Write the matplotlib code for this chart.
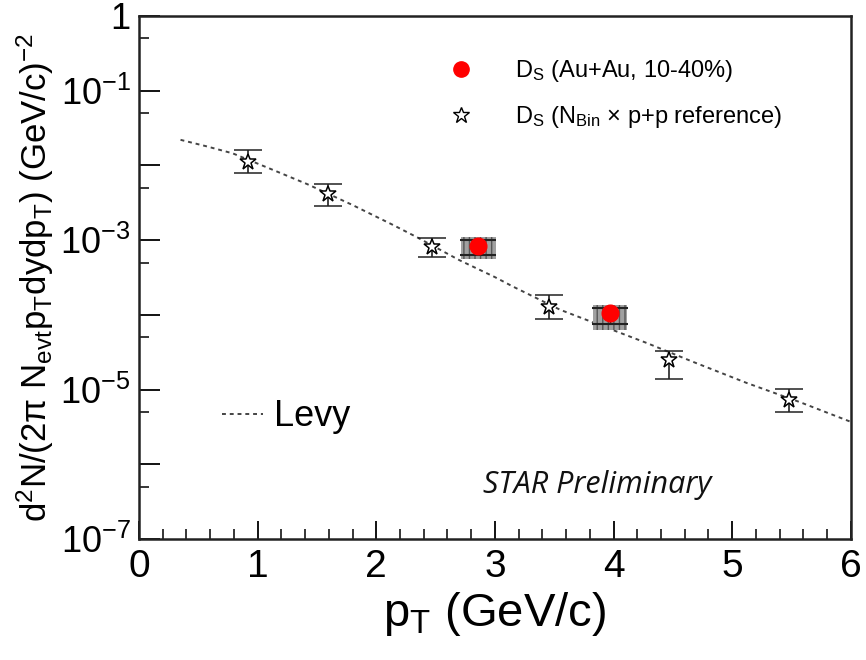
import matplotlib
matplotlib.use('Agg')
import matplotlib.pyplot as plt
from matplotlib.lines import Line2D
from matplotlib.ticker import FixedLocator, FixedFormatter
import numpy as np

plt.rcParams['font.family'] = ['Liberation Sans', 'DejaVu Sans']
plt.rcParams['mathtext.fontset'] = 'custom'
plt.rcParams['mathtext.rm'] = 'Liberation Sans'
plt.rcParams['mathtext.it'] = 'Liberation Sans'
plt.rcParams['mathtext.bf'] = 'Liberation Sans:bold'

# D_s in Au+Au 10-40%
aa_pt = [2.86, 3.97]
aa_val = [8.3e-4, 1.05e-4]
aa_sys_lo = [5.6e-4, 6.3e-5]
aa_sys_hi = [1.1e-3, 1.35e-4]
aa_stat_lo = [6.3e-4, 7.6e-5]
aa_stat_hi = [1.0e-3, 1.25e-4]

# Ncoll x p+p reference
pp_pt = [0.92, 1.59, 2.47, 3.46, 4.47, 5.48]
pp_val = [1.11e-2, 4.15e-3, 8.1e-4, 1.27e-4, 2.5e-5, 7.2e-6]
pp_lo = [7.9e-3, 2.9e-3, 5.9e-4, 8.8e-5, 1.4e-5, 5.0e-6]
pp_hi = [1.61e-2, 5.6e-3, 1.07e-3, 1.85e-4, 3.3e-5, 1.02e-5]

# Levy curve
levy_pt = [0.35, 0.57, 0.79, 1.13, 1.42, 1.80, 2.14, 2.34, 2.70, 3.00,
           3.15, 3.55, 3.99, 4.28, 4.67, 5.12, 5.57, 6.00]
levy_val = [2.2e-2, 1.8e-2, 1.45e-2, 8.7e-3, 5.6e-3, 2.95e-3, 1.6e-3, 1.1e-3,
            5.4e-4, 3.2e-4, 2.4e-4, 1.17e-4, 6.3e-5, 4.2e-5, 2.35e-5, 1.23e-5,
            6.8e-6, 3.7e-6]

fig = plt.figure(figsize=(8.66, 6.6), dpi=100)
ax = fig.add_axes([0.1605, 0.1833, 0.822, 0.7925])

ax.set_yscale('log')
ax.set_xlim(0, 6)
ax.set_ylim(1e-7, 1)

# Levy fit
ax.plot(levy_pt, levy_val, ls=(0, (2, 2)), color='#444444', lw=1.4)

# systematic boxes for Au+Au
sys_h = np.array(aa_sys_hi) - np.array(aa_sys_lo)
ax.bar(aa_pt, sys_h, bottom=aa_sys_lo, width=0.29, color='#a0a0a0',
       hatch='|||', edgecolor='#555555', linewidth=0, zorder=2)
ax.errorbar(aa_pt, aa_val,
            yerr=[np.array(aa_val) - np.array(aa_stat_lo),
                  np.array(aa_stat_hi) - np.array(aa_val)],
            fmt='none', ecolor='#222222', elinewidth=1, capsize=13,
            capthick=1.5, zorder=3)
ax.plot(aa_pt, aa_val, 'o', color='#ff0000', ms=12, zorder=4)

# p+p reference
pv = np.array(pp_val)
ax.errorbar(pp_pt, pp_val, yerr=[pv - np.array(pp_lo), np.array(pp_hi) - pv],
            fmt='*', color='black', mfc='white', mec='black', ms=12, mew=1.1,
            ecolor='#222222', elinewidth=1.2, capsize=10, capthick=2.2, zorder=3)

# ticks in ROOT style
ax.xaxis.set_major_locator(FixedLocator([0, 1, 2, 3, 4, 5, 6]))
ax.xaxis.set_minor_locator(FixedLocator(np.arange(0, 6.01, 0.2)))
dec = [1e-7, 1e-6, 1e-5, 1e-4, 1e-3, 1e-2, 1e-1, 1]
dec_lab = [r'$10^{-7}$', '', r'$10^{-5}$', '', r'$10^{-3}$', '', r'$10^{-1}$', '1']
ax.yaxis.set_major_locator(FixedLocator(dec))
ax.yaxis.set_major_formatter(FixedFormatter(dec_lab))
ax.yaxis.set_minor_locator(FixedLocator([5e-7, 5e-6, 5e-5, 5e-4, 5e-3, 5e-2, 5e-1]))
ax.yaxis.set_minor_formatter(FixedFormatter([''] * 7))
ax.tick_params(which='both', direction='in', top=False, right=False)
ax.tick_params(axis='x', which='major', length=13, width=1.3, labelsize=28, pad=7)
ax.tick_params(axis='x', which='minor', length=7, width=1.1)
ax.tick_params(axis='y', which='major', length=15, width=1.3, labelsize=26, pad=6)
ax.tick_params(axis='y', which='minor', length=7, width=1.1)
for s in ax.spines.values():
    s.set_linewidth(1.8)
    s.set_color('#222222')

ax.set_xlabel(r'p$_T$ (GeV/c)', fontsize=34, labelpad=4)
ax.set_ylabel(r'd$^2$N/(2$\pi$ N$_{evt}$p$_T$dydp$_T$) (GeV/c)$^{-2}$',
              fontsize=25, labelpad=3)

# legends
h1 = [Line2D([], [], ls='none', marker='o', color='#ff0000', ms=11),
      Line2D([], [], ls='none', marker='*', mfc='white', mec='black', ms=12, mew=1)]
leg1 = ax.legend(h1, [r'D$_S$ (Au+Au, 10-40%)', r'D$_S$ (N$_{Bin}$ $\times$ p+p reference)'],
                 loc='upper left', bbox_to_anchor=(0.521, 0.912),
                 bbox_transform=fig.transFigure, frameon=False, fontsize=17,
                 handlelength=0.8, handletextpad=1.9, labelspacing=0.85,
                 borderpad=0, borderaxespad=0)
ax.add_artist(leg1)
h2 = [Line2D([], [], ls=(0, (2, 2)), color='#444444', lw=1.4)]
ax.legend(h2, ['Levy'], loc='upper left', bbox_to_anchor=(0.256, 0.395),
          bbox_transform=fig.transFigure, frameon=False, fontsize=26,
          handlelength=1.15, handletextpad=0.3, borderpad=0, borderaxespad=0)

fig.text(0.69, 0.265, 'STAR Preliminary', fontsize=22, style='italic',
         family=['Open Sans', 'DejaVu Sans'], ha='center', va='center',
         color='#111111')

fig.savefig('out.png', dpi=100)
